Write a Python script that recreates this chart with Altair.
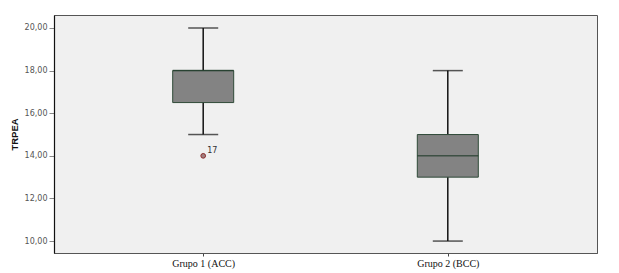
import altair as alt
import pandas as pd

groups = ["Grupo 1 (ACC)", "Grupo 2 (BCC)"]
w_low = [15.0, 10.0]
q1 = [16.5, 13.0]
median = [18.0, 14.0]
q3 = [18.0, 15.0]
w_high = [20.0, 18.0]

out_group = ["Grupo 1 (ACC)"]
out_value = [14.0]
out_label = ["17"]

df = pd.DataFrame({"g": groups, "lo": w_low, "q1": q1, "med": median, "q3": q3, "hi": w_high})
odf = pd.DataFrame({"g": out_group, "v": out_value, "lab": out_label})

xscale = alt.Scale(type="point", domain=groups, padding=0.61)
yscale = alt.Scale(domain=[9.44, 20.61], nice=False, zero=False)

x = alt.X("g:N", scale=xscale, sort=groups,
          axis=alt.Axis(title=None, labelAngle=0, labelFont="Liberation Serif", labelFontSize=10,
                        labelColor="#111", tickSize=3, tickColor="#444", domainColor="#555",
                        labelPadding=2))
yaxis = alt.Axis(title="TRPEA", values=[10, 12, 14, 16, 18, 20],
                 labelExpr="replace(format(datum.value, '.2f'), '.', ',')",
                 labelFont="DejaVu Sans", labelFontSize=8, labelColor="#555",
                 tickSize=5, tickColor="#888", domainColor="#111", domainWidth=1.2,
                 titleFont="Liberation Sans", titleFontSize=9.5, titleFontWeight="bold",
                 titleColor="#111", titlePadding=5, grid=False)

base = alt.Chart(df)

whisk = base.mark_rule(color="#111", strokeWidth=1.5).encode(
    x=x, y=alt.Y("lo:Q", scale=yscale, axis=yaxis), y2="hi:Q")
caps_lo = base.mark_tick(color="#111", size=30, thickness=1.5, orient="horizontal").encode(
    x=x, y=alt.Y("lo:Q", scale=yscale))
caps_hi = base.mark_tick(color="#111", size=30, thickness=1.5, orient="horizontal").encode(
    x=x, y=alt.Y("hi:Q", scale=yscale))
box = base.mark_bar(width=61, color="#838383", stroke="#2f4a38", strokeWidth=1).encode(
    x=x, y=alt.Y("q1:Q", scale=yscale), y2="q3:Q")
med = base.mark_tick(color="#1f3a2a", size=61, thickness=1.5, orient="horizontal").encode(
    x=x, y=alt.Y("med:Q", scale=yscale))

outl = alt.Chart(odf).mark_point(shape="circle", filled=True, size=22, fill="#a08080",
                                 stroke="#8b2a2a", strokeWidth=1, opacity=1).encode(
    x=x, y=alt.Y("v:Q", scale=yscale))
outt = alt.Chart(odf).mark_text(align="left", baseline="bottom", dx=4, dy=-1, fontSize=8,
                                font="DejaVu Sans", color="#333").encode(
    x=x, y=alt.Y("v:Q", scale=yscale), text="lab:N")

chart = alt.layer(whisk, caps_lo, caps_hi, box, med, outl, outt).properties(
    width=543, height=238,
    autosize=alt.AutoSizeParams(type="none"),
    padding={"left": 46, "top": 7, "right": 10, "bottom": 20},
    background="white"
).configure_view(fill="#f0f0f0", stroke="#555", strokeWidth=1)

chart.save("out.html", embed_options={"renderer": "svg", "actions": False})
